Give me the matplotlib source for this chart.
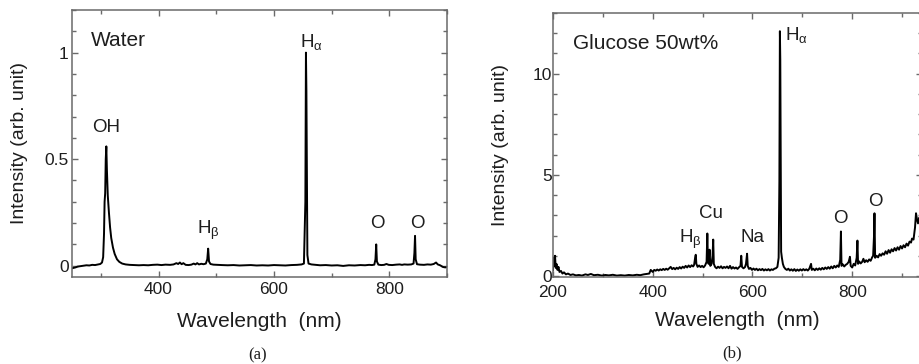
#!usr/bin/python

"""
Emission spectra: water vs glucose 50wt% (two panels)
"""
# IMPORTS
import matplotlib
matplotlib.use('Agg')
import matplotlib.pyplot as plt
from matplotlib.ticker import MultipleLocator
import numpy as np

plt.rcParams['font.family'] = ['Liberation Sans', 'DejaVu Sans']
plt.rcParams['mathtext.fontset'] = 'custom'
plt.rcParams['mathtext.rm'] = 'Liberation Sans'
plt.rcParams['mathtext.it'] = 'Liberation Sans:italic'

TEXT_COL = '#1e1e1e'
SPINE_COL = '#6a6a6a'

# (wavelength nm, intensity)
WATER_SPECTRUM = [
    (250, -0.012), (253, -0.010), (256, -0.008), (260, -0.004), (265, -0.002),
    (270, 0.000), (275, 0.002), (280, 0.001), (285, 0.004), (290, 0.003),
    (295, 0.006), (299, 0.008), (302, 0.015), (304, 0.04), (305.5, 0.15),
    (306.5, 0.30), (307.5, 0.34), (308.5, 0.50), (309.5, 0.56), (310.5, 0.45),
    (312, 0.33), (314, 0.25), (316, 0.18), (318, 0.13), (321, 0.085),
    (324, 0.055), (328, 0.03), (332, 0.018), (337, 0.01), (343, 0.006),
    (350, 0.004), (358, 0.003), (366, 0.002), (374, 0.003), (382, 0.002),
    (390, 0.004), (398, 0.005), (405, 0.003), (412, 0.005), (420, 0.004),
    (426, 0.006), (431, 0.012), (434, 0.008), (437, 0.015), (440, 0.007),
    (443, 0.012), (447, 0.004), (452, 0.003), (457, 0.005), (461, 0.01),
    (464, 0.006), (467, 0.012), (470, 0.006), (474, 0.009), (478, 0.007),
    (482, 0.01), (484.5, 0.03), (486, 0.08), (487.5, 0.02), (490, 0.008),
    (495, 0.005), (502, 0.004), (510, 0.003), (520, 0.002), (530, 0.003),
    (540, 0.001), (550, 0.002), (560, 0.003), (570, 0.001), (580, 0.002),
    (590, 0.001), (600, 0.003), (610, 0.002), (620, 0.001), (630, 0.003),
    (640, 0.004), (648, 0.006), (652, 0.01), (654.5, 0.30), (655.5, 1.0),
    (656.3, 0.82), (657, 0.5), (658, 0.05), (660, 0.01), (665, 0.006),
    (672, 0.004), (680, 0.002), (690, 0.003), (700, 0.001), (710, 0.002),
    (720, -0.001), (730, 0.002), (740, 0.001), (750, 0.003), (758, 0.002),
    (765, 0.004), (770, 0.003), (774, 0.005), (776, 0.03), (777.3, 0.10),
    (778.5, 0.02), (781, 0.005), (786, 0.003), (791, 0.004), (795, 0.008),
    (799, 0.004), (805, 0.003), (812, 0.005), (818, 0.006), (822, 0.004),
    (826, 0.006), (832, 0.005), (838, 0.006), (842, 0.01), (843.5, 0.06),
    (844.6, 0.14), (845.7, 0.03), (848, 0.007), (853, 0.005), (860, 0.004),
    (866, 0.006), (872, 0.005), (877, 0.008), (881, 0.015), (884, 0.006),
    (888, 0.002), (893, -0.006), (897, -0.008), (900, -0.006),
]

# (wavelength nm, intensity)
GLUCOSE_SPECTRUM = [
    # UV end
    (200, 0.3), (201, 0.9), (202.5, 0.5), (204, 1.0), (205.5, 0.4),
    (207, 0.6), (209, 0.3), (211, 0.45), (213, 0.2), (216, 0.25),
    (219, 0.12), (222, 0.18), (226, 0.08), (230, 0.12), (235, 0.05),
    (240, 0.08), (246, 0.03), (252, 0.05), (258, 0.02), (265, 0.08),
    (270, 0.05), (276, 0.1), (282, 0.04), (290, 0.06), (298, 0.02),
    (305, 0.05), (312, 0.03), (320, 0.06), (328, 0.02), (336, 0.04),
    (344, 0.02), (352, 0.05), (360, 0.03), (368, 0.06), (375, 0.04),
    (382, 0.08), (388, 0.1), (393, 0.12), (396, 0.3),
    # 400 - 650
    (400, 0.2), (403, 0.3), (406, 0.26), (409, 0.32), (412, 0.27),
    (415, 0.33), (418, 0.29), (421, 0.35), (424, 0.3), (427, 0.36),
    (430, 0.31), (433, 0.38), (436, 0.45), (439, 0.34), (442, 0.4),
    (445, 0.33), (448, 0.41), (451, 0.35), (454, 0.44), (457, 0.37),
    (460, 0.46), (463, 0.4), (466, 0.5), (469, 0.42), (472, 0.52),
    (475, 0.44), (478, 0.53), (481, 0.47), (483, 0.55), (485, 0.9),
    (486.3, 1.05), (487.5, 0.6), (490, 0.45), (493, 0.52), (496, 0.44),
    (499, 0.5), (502, 0.43), (505, 0.52), (508, 0.7), (509.5, 2.1),
    (510.5, 1.0), (512, 0.6), (514, 1.3), (515.5, 0.5), (518, 0.6),
    (520, 1.0), (521.3, 1.8), (522.5, 0.6), (525, 0.45), (528, 0.38),
    (531, 0.46), (534, 0.4), (537, 0.48), (540, 0.38), (543, 0.45),
    (546, 0.4), (549, 0.47), (552, 0.38), (555, 0.5), (558, 0.36),
    (561, 0.44), (564, 0.37), (567, 0.42), (570, 0.35), (573, 0.43),
    (576, 0.5), (577.5, 1.0), (579, 0.45), (582, 0.38), (585, 0.44),
    (587, 0.6), (589.2, 1.1), (590.5, 0.5), (593, 0.35), (596, 0.4),
    (599, 0.3), (602, 0.37), (605, 0.3), (608, 0.36), (611, 0.28),
    (614, 0.34), (617, 0.29), (620, 0.35), (623, 0.27), (626, 0.33),
    (629, 0.28), (632, 0.34), (635, 0.27), (638, 0.33), (641, 0.3),
    (644, 0.36), (647, 0.38), (650, 0.45),
    # H-alpha
    (652.5, 0.9), (654, 4.7), (655, 12.1), (655.8, 10.7), (656.6, 6.0),
    (657.5, 1.2), (659, 0.9), (661, 0.6),
    # 660 - 945
    (663, 0.45), (666, 0.35), (669, 0.3), (672, 0.36), (675, 0.27),
    (678, 0.33), (681, 0.26), (684, 0.34), (687, 0.25), (690, 0.32),
    (693, 0.26), (696, 0.33), (699, 0.27), (702, 0.34), (705, 0.28),
    (708, 0.33), (711, 0.27), (714, 0.36), (717.5, 0.6), (719, 0.3),
    (722, 0.36), (725, 0.28), (728, 0.37), (731, 0.3), (734, 0.38),
    (737, 0.31), (740, 0.4), (743, 0.33), (746, 0.42), (749, 0.35),
    (752, 0.44), (755, 0.36), (758, 0.47), (761, 0.38), (764, 0.5),
    (767, 0.42), (770, 0.52), (773, 0.45), (776, 0.8), (777.4, 2.2),
    (778.6, 0.5), (781, 0.58), (784, 0.47), (787, 0.55), (790, 0.6),
    (793, 0.7), (795.5, 0.95), (797, 0.5), (800, 0.42), (803, 0.6),
    (806, 0.52), (809, 0.9), (810.5, 1.75), (811.8, 0.6), (814, 0.72),
    (817, 0.62), (820, 0.7), (822.5, 0.85), (825, 0.68), (828, 0.78),
    (831, 0.7), (834, 0.82), (837, 0.75), (840, 0.92), (842, 1.0),
    (843.8, 2.0), (844.7, 3.1), (846, 0.9), (849, 1.0), (852, 0.92),
    (855, 1.08), (858, 1.0), (861, 1.12), (864, 1.05), (867, 1.22),
    (870, 1.1), (873, 1.28), (876, 1.15), (879, 1.32), (882, 1.22),
    (885, 1.38), (888, 1.26), (891, 1.42), (894, 1.3), (897, 1.48),
    (900, 1.36), (903, 1.52), (906, 1.42), (909, 1.6), (912, 1.5),
    (915, 1.7), (918, 1.65), (920, 1.85), (923, 1.8), (926, 2.4),
    (928, 3.1), (930, 2.8), (932, 2.6), (935, 2.9), (938, 2.6),
    (940, 2.7), (945, 2.5),
]

# peak labels: (text, x, y)
WATER_LABELS = [('OH', 309, 0.65), ('H$_{\\mathrm{β}}$', 487, 0.167),
                ('O', 780, 0.2), ('O', 848, 0.2)]
GLUCOSE_LABELS = [('H$_{\\mathrm{β}}$', 476, 1.8), ('Cu', 517, 3.1),
                  ('Na', 601, 1.9), ('O', 776, 2.85), ('O', 846, 3.7)]


def style_axes(ax, xmaj, xmin, ymaj, ymin, xpad, ypad):
    ax.xaxis.set_major_locator(MultipleLocator(xmaj))
    ax.xaxis.set_minor_locator(MultipleLocator(xmin))
    ax.yaxis.set_major_locator(MultipleLocator(ymaj))
    ax.yaxis.set_minor_locator(MultipleLocator(ymin))
    ax.tick_params(which='both', direction='in', top=True, right=True,
                   color=SPINE_COL, width=1.0, labelcolor=TEXT_COL, labelsize=12.5)
    ax.tick_params(which='major', length=4)
    ax.tick_params(which='minor', length=3)
    ax.tick_params(axis='x', pad=xpad)
    ax.tick_params(axis='y', pad=ypad)
    for sp in ax.spines.values():
        sp.set_color(SPINE_COL)
        sp.set_linewidth(1.1)
    ax.set_xlabel('Wavelength  (nm)', fontsize=15, color=TEXT_COL)
    ax.set_ylabel('Intensity (arb. unit)', fontsize=14, color=TEXT_COL)
    ax.xaxis.set_label_coords(0.5, -0.13)
    ax.yaxis.set_label_coords(-0.118, 0.5)


def plot_panel(ax, spectrum, labels, fsize=13.5):
    data = np.array(spectrum)
    ax.plot(data[:, 0], data[:, 1], color='black', lw=1.4)
    for text, xval, yval in labels:
        ax.text(xval, yval, text, ha='center', va='center',
                fontsize=fsize, color=TEXT_COL)


def main():
    fig = plt.figure(figsize=(9.2, 3.64), dpi=100)

    # Panel (a): water
    ax_a = fig.add_axes([72 / 920, 87 / 364, 375 / 920, 267 / 364])
    plot_panel(ax_a, WATER_SPECTRUM, WATER_LABELS)
    ax_a.text(283, 1.055, 'Water', ha='left', va='center', fontsize=15, color=TEXT_COL)
    ax_a.text(646, 1.05, 'H$_{\\mathrm{α}}$', ha='left', va='center',
              fontsize=13.5, color=TEXT_COL)
    ax_a.set_xlim(250, 900)
    ax_a.set_ylim(-0.053, 1.2)
    style_axes(ax_a, 200, 100, 0.5, 0.1, 3.5, 2.5)
    ax_a.set_yticks([0, 0.5, 1])
    ax_a.set_yticklabels(['0', '0.5', '1'])

    # Panel (b): glucose, runs past the right edge of the page
    ax_b = fig.add_axes([553 / 920, 87 / 364, 369 / 920, 264 / 364])
    plot_panel(ax_b, GLUCOSE_SPECTRUM, GLUCOSE_LABELS)
    ax_b.text(240, 11.5, 'Glucose 50wt%', ha='left', va='center',
              fontsize=15, color=TEXT_COL)
    ax_b.text(665, 11.9, 'H$_{\\mathrm{α}}$', ha='left', va='center',
              fontsize=13.5, color=TEXT_COL)
    ax_b.set_xlim(200, 940)
    ax_b.set_ylim(-0.05, 13)
    style_axes(ax_b, 200, 100, 5, 1, 6, 1)

    # sub-figure captions
    fig.text(258 / 920, 1 - 355 / 364, '(a)', ha='center', va='center',
             fontsize=12, family='Liberation Serif', color=TEXT_COL)
    fig.text(732 / 920, 1 - 353 / 364, '(b)', ha='center', va='center',
             fontsize=12, family='Liberation Serif', color=TEXT_COL)

    fig.savefig('out.png', dpi=100)


if __name__ == '__main__':
    main()
